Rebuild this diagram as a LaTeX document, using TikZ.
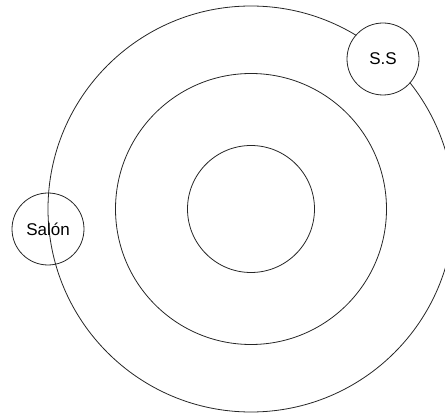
\documentclass[tikz,border=0pt]{standalone}
\usepackage{fontspec}
\setmainfont{Liberation Sans}
\begin{document}
\begin{tikzpicture}[x=1pt,y=-1pt,
  ring/.style={draw=black!85,line width=0.8pt},
  place/.style={circle,draw=black!85,line width=0.8pt,minimum size=72pt,inner sep=0pt,font=\fontsize{17}{17}\selectfont}]
\useasboundingbox (0,0) rectangle (445,414);
\begin{scope}
\clip (0,0) rectangle (445,414);
\coordinate (c) at (251,209);
\draw[ring] (c) circle[radius=63.5];
\draw[ring] (c) circle[radius=135.5];
\draw[ring] (c) circle[radius=203];
\end{scope}
\node[place] (salon) at (48,229) {Salón};
\node[place,fill=white] (ss) at (383,59) {S.S};
\end{tikzpicture}
\end{document}
